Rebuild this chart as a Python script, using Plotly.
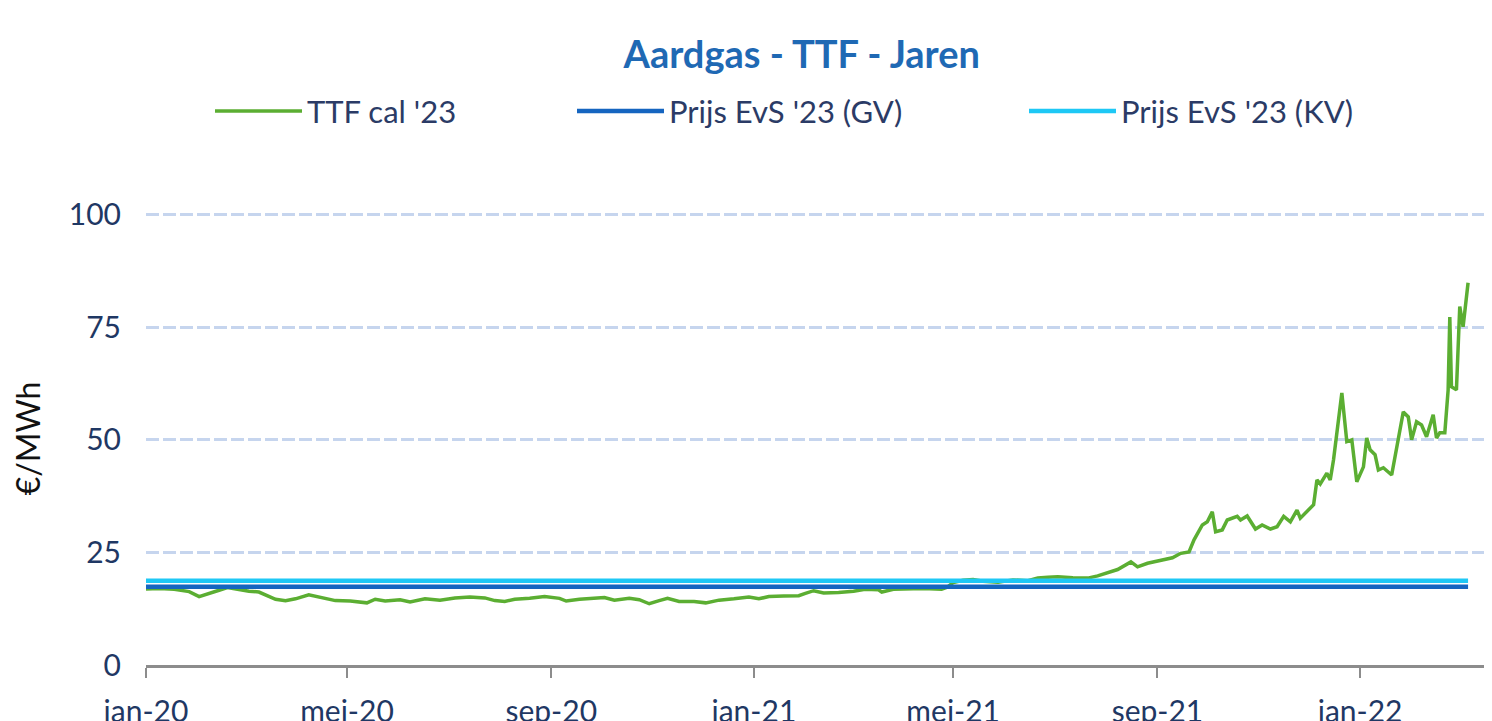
import plotly.graph_objects as go

dates = [
    "2020-01-01","2020-01-09","2020-01-18","2020-01-27","2020-02-02","2020-02-08","2020-02-14","2020-02-19",
    "2020-02-26","2020-03-03","2020-03-09","2020-03-14","2020-03-19","2020-03-25","2020-03-31","2020-04-08",
    "2020-04-15","2020-04-24","2020-05-03","2020-05-13","2020-05-18","2020-05-24","2020-06-02","2020-06-08",
    "2020-06-17","2020-06-26","2020-07-05","2020-07-14","2020-07-23","2020-07-29","2020-08-04","2020-08-10",
    "2020-08-19","2020-08-28","2020-09-06","2020-09-10","2020-09-18","2020-09-27","2020-10-03","2020-10-09",
    "2020-10-18","2020-10-24","2020-10-30","2020-11-05","2020-11-10","2020-11-17","2020-11-26","2020-12-03",
    "2020-12-11","2020-12-20","2020-12-29","2021-01-04","2021-01-10","2021-01-19","2021-01-28","2021-02-01",
    "2021-02-06","2021-02-12","2021-02-21","2021-03-02","2021-03-09","2021-03-17","2021-03-19","2021-03-26",
    "2021-04-04","2021-04-13","2021-04-24","2021-04-27","2021-05-01","2021-05-07","2021-05-13","2021-05-19",
    "2021-05-28","2021-06-06","2021-06-15","2021-06-21","2021-06-27","2021-07-03","2021-07-12","2021-07-21",
    "2021-07-27","2021-08-02","2021-08-08","2021-08-16","2021-08-20","2021-08-26","2021-09-03","2021-09-10",
    "2021-09-15","2021-09-20","2021-09-23","2021-09-28","2021-10-01","2021-10-04","2021-10-06","2021-10-10",
    "2021-10-13","2021-10-19","2021-10-21","2021-10-25","2021-10-30","2021-11-03","2021-11-08","2021-11-12",
    "2021-11-16","2021-11-20","2021-11-24","2021-11-26","2021-12-04","2021-12-06","2021-12-08","2021-12-12",
    "2021-12-14","2021-12-16","2021-12-21","2021-12-24","2021-12-27","2021-12-30","2022-01-03","2022-01-05",
    "2022-01-07","2022-01-10","2022-01-12","2022-01-15","2022-01-20","2022-01-27","2022-01-30","2022-02-01",
    "2022-02-04","2022-02-07","2022-02-10","2022-02-14","2022-02-16","2022-02-18","2022-02-21","2022-02-23",
    "2022-02-24","2022-02-25","2022-02-28","2022-03-02","2022-03-04","2022-03-07",
]
ttf_cal23 = [
    16.9,17.0,16.8,16.3,15.2,16.0,16.6,17.2,
    16.7,16.4,16.2,15.5,14.6,14.3,14.7,15.6,
    15.0,14.3,14.2,13.8,14.6,14.2,14.5,14.0,
    14.7,14.4,14.9,15.1,14.9,14.3,14.1,14.6,
    14.8,15.2,14.8,14.2,14.6,14.8,15.0,14.4,
    14.8,14.5,13.6,14.3,14.8,14.1,14.1,13.8,
    14.4,14.7,15.1,14.7,15.2,15.3,15.4,15.9,
    16.5,16.0,16.1,16.4,16.8,16.7,16.2,16.8,
    16.9,17.0,16.8,17.2,18.3,18.8,19.0,18.6,
    18.4,18.9,18.7,19.3,19.5,19.6,19.4,19.3,
    19.8,20.6,21.2,22.9,21.8,22.6,23.3,23.8,
    24.8,25.1,27.8,31.1,31.8,34.0,29.6,30.0,
    32.2,33.0,32.2,33.1,30.2,31.1,30.2,30.7,
    33.0,31.8,34.4,32.6,35.6,41.1,40.2,42.6,
    41.1,45.6,60.4,49.6,50.0,40.7,44.0,50.4,
    47.8,46.7,43.3,43.8,42.2,56.2,55.1,50.0,
    54.0,53.3,50.7,55.6,50.4,51.6,51.6,61.1,
    77.3,61.8,61.1,79.6,75.1,84.9,
]
ref_dates = ["2020-01-01", "2022-03-07"]
prijs_gv = [17.4, 17.4]
prijs_kv = [18.7, 18.7]

tick_vals = ["2020-01-01","2020-05-01","2020-09-01","2021-01-01","2021-05-01","2021-09-01","2022-01-01"]
tick_text = ["jan-20","mei-20","sep-20","jan-21","mei-21","sep-21","jan-22"]
y_ticks = [0, 25, 50, 75, 100]

FONT = "Lato"
L, R, T, B = 138, 12, 204, 64
PW = 1492 - L - R


def px_to_paper_x(p):
    return (p - 8 - L) / PW


fig = go.Figure()
fig.add_trace(go.Scatter(x=dates, y=ttf_cal23, mode="lines", name="TTF cal '23",
                         line=dict(color="#5BAE32", width=3.5), legend="legend"))
fig.add_trace(go.Scatter(x=ref_dates, y=prijs_gv, mode="lines", name="Prijs EvS '23 (GV)",
                         line=dict(color="#1565C0", width=4.5), legend="legend2"))
fig.add_trace(go.Scatter(x=ref_dates, y=prijs_kv, mode="lines", name="Prijs EvS '23 (KV)",
                         line=dict(color="#1EC8F5", width=4.5), legend="legend3"))

leg_common = dict(orientation="h", xref="paper", yref="paper", xanchor="left", yanchor="middle",
                  font=dict(family=FONT, size=31, color="#2B3B66"), bgcolor="rgba(0,0,0,0)",
                  itemwidth=87)
LEG_Y = 1.222
fig.update_layout(
    width=1492, height=721,
    showlegend=True,
    paper_bgcolor="white", plot_bgcolor="white",
    margin=dict(l=L, r=R, t=T, b=B, autoexpand=False),
    title=dict(text="<b>Aardgas - TTF - Jaren</b>", x=0.532, xanchor="center", y=0.935, yanchor="middle",
               font=dict(family=FONT, size=38, color="#1F69B4")),
    legend=dict(x=px_to_paper_x(210), y=LEG_Y, **leg_common),
    legend2=dict(x=px_to_paper_x(572), y=LEG_Y, **leg_common),
    legend3=dict(x=px_to_paper_x(1024), y=LEG_Y, **leg_common),
    xaxis=dict(type="date", range=["2020-01-01", "2022-03-19"], tickvals=tick_vals, ticktext=tick_text,
               showgrid=False, showline=True, linecolor="#8C8C8C", linewidth=3,
               ticks="outside", ticklen=10, tickwidth=2, tickcolor="#8C8C8C", ticklabelstandoff=8,
               tickfont=dict(family=FONT, size=30, color="#1F3864"), zeroline=False, automargin=False),
    yaxis=dict(range=[0, 100.6], tickvals=y_ticks, showline=False, zeroline=False,
               showgrid=True, gridcolor="#C6D5EE", griddash="13px,4px", gridwidth=2.5,
               tickfont=dict(family=FONT, size=30, color="#1F3864"), ticklabelstandoff=24, automargin=False,
               title=dict(text="€/MWh", font=dict(family=FONT, size=32, color="#111111"), standoff=22)),
)
fig.write_html("out.html")
